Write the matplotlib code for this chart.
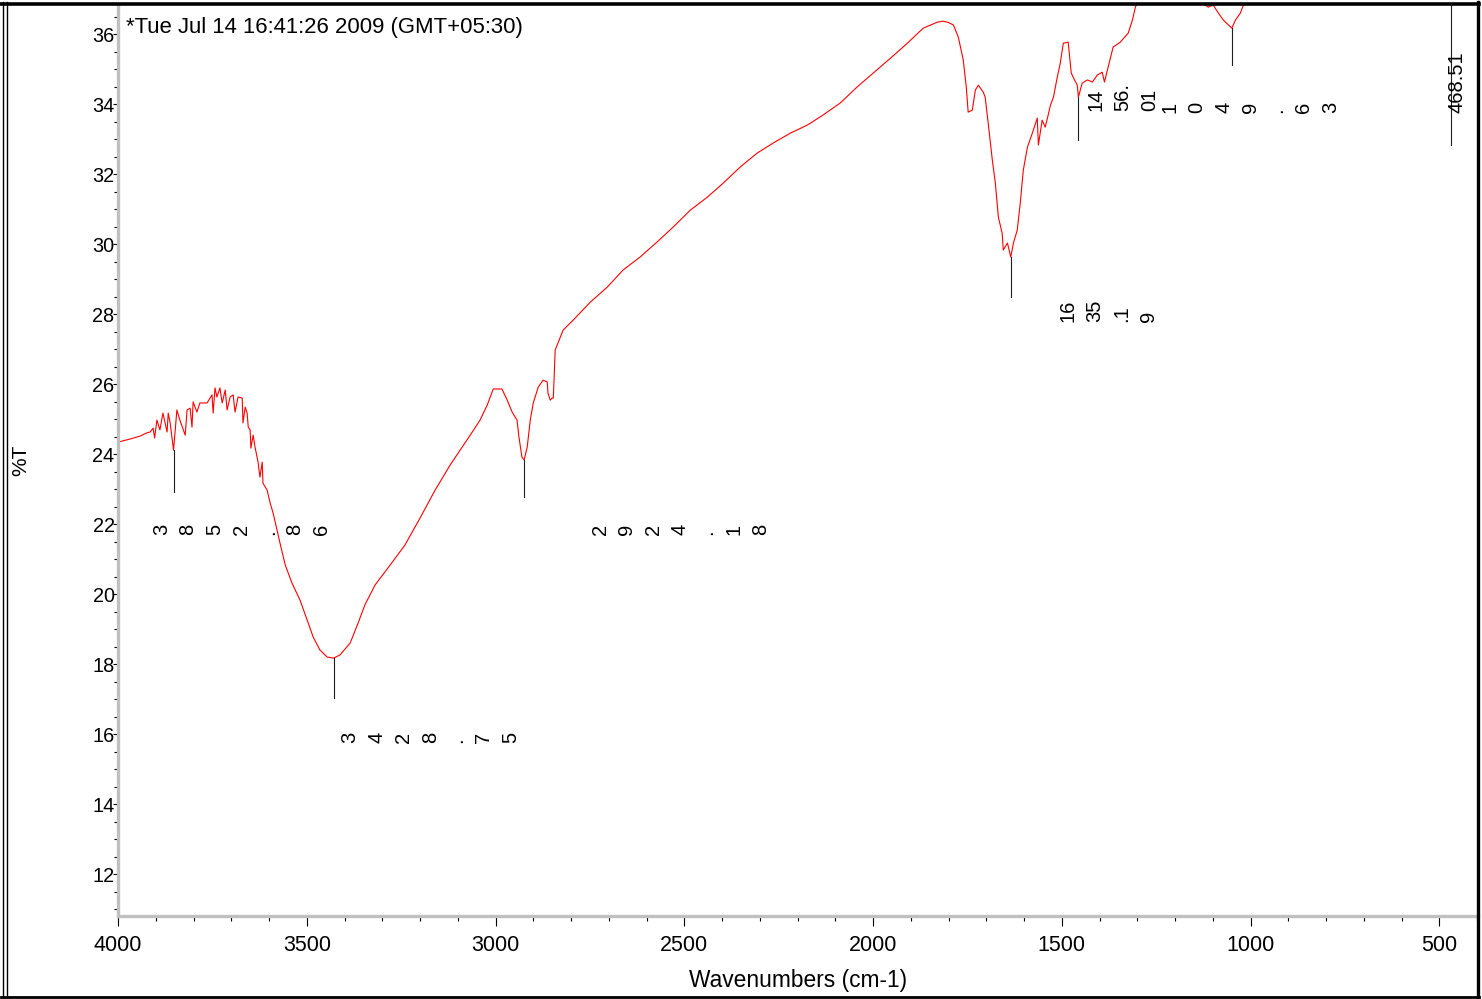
import matplotlib
matplotlib.use("Agg")
import matplotlib.pyplot as plt
from matplotlib.lines import Line2D
from matplotlib.ticker import MultipleLocator
import numpy as np

plt.rcParams['font.family'] = ['Liberation Sans', 'DejaVu Sans']

# spectrum (wavenumber in cm-1, %T)
wavenumber = [4000, 3968, 3942, 3925, 3915, 3907, 3903, 3897, 3889, 3881,
              3870, 3867, 3862, 3852.86, 3844, 3836, 3822, 3817, 3809, 3804,
              3801, 3791, 3783, 3764, 3751, 3748, 3743, 3738, 3730, 3724,
              3716, 3711, 3703, 3695, 3690, 3682, 3671, 3669, 3663, 3658,
              3655, 3650, 3648, 3642, 3637, 3629, 3624, 3618, 3616, 3605,
              3597, 3589, 3579, 3571, 3557, 3539, 3518, 3499, 3483, 3465,
              3446, 3428.75, 3412, 3385, 3364, 3346, 3319, 3279, 3240, 3200,
              3160, 3120, 3067, 3041, 3022, 3006, 2983, 2969, 2956, 2943,
              2938, 2930, 2924.18, 2916, 2908, 2900, 2887, 2874, 2863, 2861,
              2855, 2850, 2847, 2845, 2842, 2821, 2794, 2749, 2704, 2662,
              2617, 2572, 2529, 2484, 2439, 2397, 2352, 2307, 2264, 2219,
              2174, 2132, 2087, 2042, 1999, 1954, 1909, 1867, 1830, 1814,
              1800, 1787, 1774, 1761, 1753, 1748, 1737, 1729, 1721, 1708,
              1703, 1695, 1684, 1676, 1668, 1658, 1655, 1644, 1635.19, 1628,
              1618, 1610, 1602, 1591, 1578, 1565, 1562, 1552, 1544, 1538,
              1530, 1522, 1512, 1504, 1496, 1483, 1475, 1470, 1459, 1456.01,
              1446, 1432, 1419, 1406, 1393, 1387, 1377, 1364, 1345, 1324,
              1313, 1305, 1300, 1280, 1200, 1140, 1120, 1112, 1099, 1085,
              1072, 1049.63, 1040, 1027, 1019, 1000, 900, 700, 550, 468.51,
              420, 397]
transmittance = [24.34, 24.43, 24.51, 24.60, 24.63, 24.74, 24.46, 24.97, 24.69, 25.17,
                 24.63, 25.17, 24.90, 24.11, 25.26, 24.97, 24.54, 25.26, 25.31, 24.77,
                 25.49, 25.20, 25.46, 25.46, 25.69, 25.17, 25.89, 25.63, 25.89, 25.46,
                 25.83, 25.26, 25.63, 25.69, 25.20, 25.63, 25.60, 24.89, 25.34, 25.17,
                 24.77, 24.69, 24.17, 24.54, 24.20, 23.77, 23.34, 23.77, 23.17, 22.97,
                 22.60, 22.31, 21.83, 21.46, 20.83, 20.31, 19.83, 19.26, 18.77, 18.40,
                 18.20, 18.17, 18.26, 18.60, 19.17, 19.69, 20.26, 20.83, 21.40, 22.17,
                 22.97, 23.69, 24.54, 24.97, 25.40, 25.86, 25.86, 25.54, 25.20, 24.97,
                 24.49, 23.91, 23.83, 24.20, 24.97, 25.46, 25.91, 26.11, 26.06, 25.74,
                 25.54, 25.60, 25.60, 26.11, 26.97, 27.54, 27.83, 28.34, 28.77, 29.26,
                 29.63, 30.06, 30.49, 30.97, 31.34, 31.74, 32.20, 32.60, 32.89, 33.17,
                 33.40, 33.69, 34.03, 34.49, 34.89, 35.31, 35.74, 36.17, 36.34, 36.37,
                 36.33, 36.26, 35.91, 35.26, 34.49, 33.77, 33.83, 34.40, 34.54, 34.34,
                 34.20, 33.46, 32.40, 31.74, 30.77, 30.31, 29.83, 30.03, 29.63, 30.03,
                 30.40, 31.17, 32.11, 32.77, 33.17, 33.60, 32.83, 33.54, 33.34, 33.60,
                 33.97, 34.20, 34.77, 35.17, 35.74, 35.77, 34.89, 34.77, 34.54, 34.20,
                 34.60, 34.69, 34.63, 34.83, 34.91, 34.63, 35.06, 35.63, 35.77, 36.03,
                 36.40, 36.77, 36.91, 37.40, 37.60, 37.20, 36.83, 36.77, 36.83, 36.60,
                 36.40, 36.17, 36.40, 36.60, 36.83, 37.50, 38.20, 39.00, 38.60, 37.90,
                 38.50, 38.80]

# peak picks: position, bottom of the stem, label pieces
peaks = [3852.86, 3428.75, 2924.18, 1635.19, 1456.01, 1049.63, 468.51]
stem_bottom = [22.91, 17.03, 22.77, 28.49, 32.97, 35.11, 32.83]
label_pieces = [["3", "8", "5", "2", ".", "8", "6"],
                ["3", "4", "2", "8", ".", "7", "5"],
                ["2", "9", "2", "4", ".", "1", "8"],
                ["16", "35", ".1", "9"],
                ["14", "56.", "01"],
                ["1", "0", "4", "9", ".", "6", "3"],
                ["468.51"]]
label_start = [3885, 3385, 2723, 1483, 1409, 1213, 452]
label_base = [21.69, 15.74, 21.69, 27.77, 33.80, 33.74, 33.74]
piece_step = 70.7

header = "*Tue Jul 14 16:41:26 2009 (GMT+05:30)"

W, H = 1482, 999
fig = plt.figure(figsize=(W / 100, H / 100), dpi=100)
ax = fig.add_axes([118 / W, (H - 916) / H, 1360 / W, 912 / H])

ax.plot(wavenumber, transmittance, color='#ff0000', lw=0.8)

spec_at_peak = np.interp(peaks, wavenumber[::-1], transmittance[::-1])
for pk, top, bot in zip(peaks, spec_at_peak, stem_bottom):
    ax.plot([pk, pk], [top, bot], color='#202020', lw=0.8)

for pieces, start, base in zip(label_pieces, label_start, label_base):
    for i, s in enumerate(pieces):
        ax.text(start - i * piece_step, base, s, rotation=90, ha='center',
                va='bottom', fontsize=14.5, color='black')

ax.set_xlim(4000, 397.5)
ax.set_ylim(10.8, 36.86)

ax.xaxis.set_major_locator(MultipleLocator(500))
ax.xaxis.set_minor_locator(MultipleLocator(100))
ax.yaxis.set_major_locator(MultipleLocator(2))
ax.yaxis.set_minor_locator(MultipleLocator(0.5))
ax.set_yticks(np.arange(12, 37, 2))

ax.tick_params(axis='x', which='major', direction='out', length=7, width=0.8,
               labelsize=15.5, pad=7)
ax.tick_params(axis='x', which='minor', direction='out', length=3.5, width=0.8)
ax.tick_params(axis='y', which='major', direction='out', length=3.5, width=0.8,
               labelsize=14.3, pad=-1)
ax.tick_params(axis='y', which='minor', direction='out', length=3, width=0.8)

for side in ['left', 'bottom']:
    ax.spines[side].set_color('#c0c0c0')
    ax.spines[side].set_linewidth(2.4)
for side in ['top', 'right']:
    ax.spines[side].set_visible(False)

ax.set_xlabel("Wavenumbers (cm-1)", fontsize=16.4)
ax.xaxis.set_label_coords(0.5, -(980 - 916) / 912)
ax.xaxis.label.set_va('center')
ax.set_ylabel("%T", fontsize=15)
ax.yaxis.set_label_coords(-(118 - 21) / 1360, 0.5)
ax.yaxis.label.set_va('center')

ax.text(8 / 1360, (916 - 17) / 912, header, transform=ax.transAxes,
        ha='left', va='top', fontsize=15.9)

# outer frame
fx = lambda px: px / W
fy = lambda py: (H - py) / H
fig.add_artist(Line2D([fx(1), fx(1479)], [fy(3.5), fy(3.5)], color='black', lw=2.6))
fig.add_artist(Line2D([fx(1478), fx(1478)], [fy(2), fy(998)], color='black', lw=2.4))
fig.add_artist(Line2D([fx(1), fx(1479)], [fy(997), fy(997)], color='black', lw=2.0))
fig.add_artist(Line2D([fx(2.5), fx(2.5)], [fy(2), fy(998)], color='black', lw=1.0))
fig.add_artist(Line2D([fx(6.5), fx(6.5)], [fy(2), fy(998)], color='black', lw=1.0))

fig.savefig("out.png", dpi=100)
